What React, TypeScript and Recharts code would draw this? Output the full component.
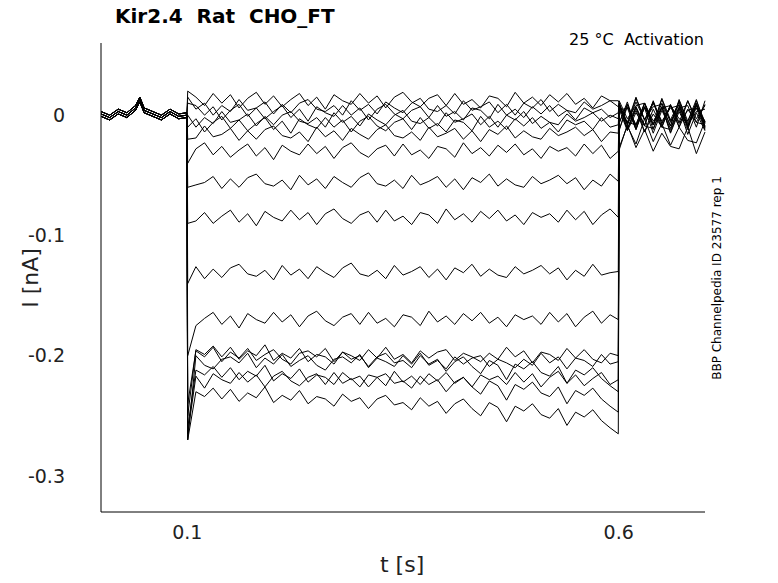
import { CartesianGrid, Line, LineChart, XAxis, YAxis } from 'recharts';

// sample times (s)
const preTimes = [0, 0.01, 0.02, 0.03, 0.04, 0.045, 0.05, 0.06, 0.07, 0.08, 0.09, 0.0995];
const stepTimes = [
  0.11, 0.12, 0.13, 0.14, 0.15, 0.16, 0.17, 0.18, 0.19, 0.2, 0.21, 0.22, 0.23, 0.24, 0.25, 0.26,
  0.27, 0.28, 0.29, 0.3, 0.31, 0.32, 0.33, 0.34, 0.35, 0.36, 0.37, 0.38, 0.39, 0.4, 0.41, 0.42,
  0.43, 0.44, 0.45, 0.46, 0.47, 0.48, 0.49, 0.5, 0.51, 0.52, 0.53, 0.54, 0.55, 0.56, 0.57, 0.58, 0.59,
];
const postTimes = [0.6005, 0.61, 0.62, 0.63, 0.64, 0.65, 0.66, 0.67, 0.68, 0.69, 0.7];

// baseline before the step (nA)
const preValues = [0.001, -0.002, 0.003, 0.0, 0.006, 0.013, 0.004, 0.001, -0.002, 0.003, -0.001, 0.0];

// steady level during the step, onset value, level after the step (nA)
const stepLevels = [0.012, 0.007, 0.002, -0.003, -0.008, -0.015, -0.03, -0.055, -0.085, -0.13, -0.17, -0.195, -0.205, -0.212, -0.22, -0.23, -0.2];
const onsetValues = [0.02, 0.015, 0.01, 0.0, -0.01, -0.02, -0.04, -0.06, -0.09, -0.14, -0.2, -0.25, -0.27, -0.26, -0.265, -0.27, -0.24];
const postLevels = [0.002, 0.0, -0.002, 0.003, 0.0, -0.004, 0.001, -0.003, 0.002, 0.0, -0.002, 0.001, -0.003, -0.015, 0.0, -0.02, 0.0];
const ripplePick = [0, 1, 0, 1, 0, 1, 0, 1, 0, 1, 0, 2, 1, 2, 0, 2, 1];

// ripple patterns (thousandths of nA)
const ripple1 = [3, -4, 6, -2, 5, -6, 2, 7, -3, 4, -5, 1, 6, -4, 3, -7, 5, 0, -3, 6, -2, 4, -6, 3, 7, -1, -5, 2, 5, -4, 6, -3, 1, -6, 4, 2, -5, 7, -2, 3, -4, 5, -1, 6, -3, 2, -6, 4, 0];
const ripple2 = [-5, 2, -3, 7, -1, 4, -6, 3, 1, -4, 6, -2, 5, -3, -6, 2, 4, -1, 7, -5, 3, -2, 6, -4, 1, 5, -3, -7, 2, 4, -1, 6, -5, 3, 0, -4, 5, -2, 7, -3, 1, -6, 4, -2, 3, 5, -4, 2, -1];
const ripple3 = [0, -4, 3, -6, 2, -8, -1, -5, 4, -9, -3, -7, 1, -10, -4, -6, -12, -2, -8, -5, -14, -6, -3, -11, -9, -15, -5, -12, -8, -18, -10, -6, -14, -20, -9, -13, -25, -12, -16, -10, -19, -22, -14, -28, -17, -21, -15, -24, -30];
const postRipple = [8, -10, 12, -6, 9, -12, 7, -8, 10, -5, 6];

const ripples = [ripple1, ripple2, ripple3];

type Row = { t: number; [k: string]: number };

function buildRows(): Row[] {
  const rows: Row[] = [];
  preTimes.forEach((t, i) => {
    const r: Row = { t };
    stepLevels.forEach((_, k) => (r['s' + k] = preValues[i] + ((k % 3) - 1) * 0.002));
    rows.push(r);
  });
  const onset: Row = { t: 0.1005 };
  onsetValues.forEach((v, k) => (onset['s' + k] = v));
  rows.push(onset);
  stepTimes.forEach((t, i) => {
    const r: Row = { t };
    stepLevels.forEach((lv, k) => {
      const sign = k % 2 === 0 ? 1 : -1;
      const rp = ripples[ripplePick[k]];
      const v = ripplePick[k] === 2 ? rp[i] : sign * rp[(i + k) % rp.length];
      r['s' + k] = lv + v / 1000;
    });
    rows.push(r);
  });
  const end: Row = { t: 0.5995 };
  stepLevels.forEach((lv, k) => (end['s' + k] = lv + (ripplePick[k] === 2 ? -0.035 : 0)));
  rows.push(end);
  postTimes.forEach((t, i) => {
    const r: Row = { t };
    postLevels.forEach((lv, k) => {
      const sign = k % 2 === 0 ? 1 : -1;
      r['s' + k] = lv + (sign * postRipple[(i + k) % postRipple.length]) / 1000;
    });
    rows.push(r);
  });
  return rows;
}

const rows = buildRows();
const font = 'DejaVu Sans, sans-serif';

export default function App() {
  return (
    <div style={{ position: 'relative', width: 778, height: 583, fontFamily: font, background: '#fff' }}>
      <style>{'body{margin:0}'}</style>
      <LineChart width={778} height={583} data={rows} margin={{ top: 43, right: 73, bottom: 41, left: 31 }}>
        <CartesianGrid stroke="none" />
        <XAxis
          dataKey="t"
          type="number"
          domain={[0, 0.7]}
          ticks={[0.1, 0.6]}
          height={30}
          tickLine={false}
          stroke="#000"
          tick={{ fill: '#222', fontSize: 19, fontFamily: font }}
          tickMargin={8}
        />
        <YAxis
          type="number"
          domain={[-0.33, 0.06]}
          ticks={[0, -0.1, -0.2, -0.3]}
          width={70}
          tickLine={false}
          stroke="#000"
          tick={{ fill: '#222', fontSize: 19, fontFamily: font }}
          tickMargin={30}
          allowDataOverflow
        />
        {stepLevels.map((_, k) => (
          <Line
            key={k}
            dataKey={'s' + k}
            type="linear"
            stroke="#000"
            strokeWidth={1}
            dot={false}
            isAnimationActive={false}
          />
        ))}
      </LineChart>
      <div style={{ position: 'absolute', left: 115, top: 4, fontSize: 20, fontWeight: 'bold', whiteSpace: 'pre' }}>
        {'Kir2.4  Rat  CHO_FT'}
      </div>
      <div style={{ position: 'absolute', right: 74, top: 30, fontSize: 16, whiteSpace: 'pre' }}>{'25 °C  Activation'}</div>
      <div style={{ position: 'absolute', left: 380, top: 552, fontSize: 22, color: '#222' }}>t [s]</div>
      <div
        style={{
          position: 'absolute',
          left: 30,
          top: 278,
          fontSize: 22,
          color: '#222',
          transform: 'translate(-50%,-50%) rotate(-90deg)',
          whiteSpace: 'pre',
        }}
      >
        I [nA]
      </div>
      <div
        style={{
          position: 'absolute',
          left: 717,
          top: 278,
          fontSize: 12,
          transform: 'translate(-50%,-50%) rotate(-90deg)',
          whiteSpace: 'pre',
        }}
      >
        BBP Channelpedia ID 23577 rep 1
      </div>
    </div>
  );
}
